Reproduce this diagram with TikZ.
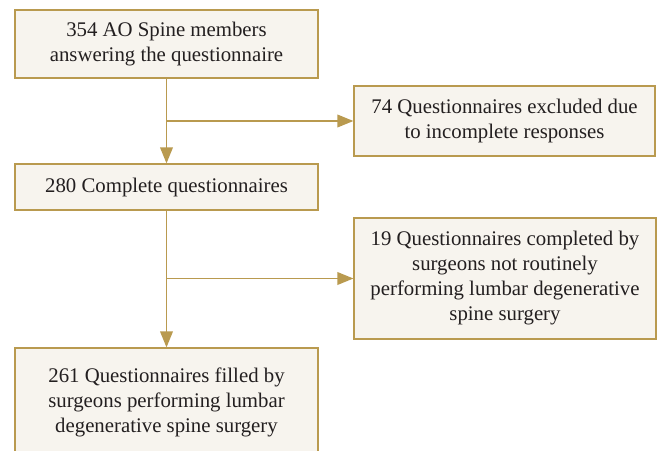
\documentclass[tikz,border=0pt]{standalone}
\usepackage{fontspec}
\setmainfont{Liberation Serif}
\usetikzlibrary{arrows.meta}
\definecolor{flowgold}{HTML}{B99A4F}
\definecolor{flowfill}{HTML}{F7F4EE}
\definecolor{flowtext}{HTML}{231F20}

\begin{document}
\begin{tikzpicture}[x=0.75pt,y=-0.75pt,box/.style n args={2}{draw=flowgold,fill=flowfill,line width=0.9pt,minimum width=#1*0.75pt,minimum height=#2*0.75pt,text=flowtext,align=center,inner sep=0pt,font=\fontsize{15.6}{18.75}\selectfont},flow/.style={draw=flowgold,line width=1.1pt,-{Triangle[length=12pt,width=9.5pt]}}]
\useasboundingbox (0,0) rectangle (659,450);
\node[box={303}{68}] (members) at (166.5,44) {354 AO Spine members\\answering the questionnaire};
\node[box={301}{70}] (excluded) at (504.5,121) {74 Questionnaires excluded due\\to incomplete responses};
\node[box={303}{46}] (complete) at (166.5,187) {280 Complete questionnaires};
\node[box={302}{121}] (notlumbar) at (505,278.5) {19 Questionnaires completed by\\surgeons not routinely\\performing lumbar degenerative\\spine surgery};
\node[box={303}{108}] (lumbar) at (166.5,402) {261 Questionnaires filled by\\surgeons performing lumbar\\degenerative spine surgery};
% split points on the vertical lines
\coordinate (split1) at (members.south |- excluded.west);
\coordinate (split2) at (complete.south |- notlumbar.west);
\draw[flow] (members.south) -- (complete.north);
\draw[flow] (split1) -- (excluded.west);
\draw[flow] (complete.south) -- (lumbar.north);
\draw[flow] (split2) -- (notlumbar.west);
\end{tikzpicture}
\end{document}
